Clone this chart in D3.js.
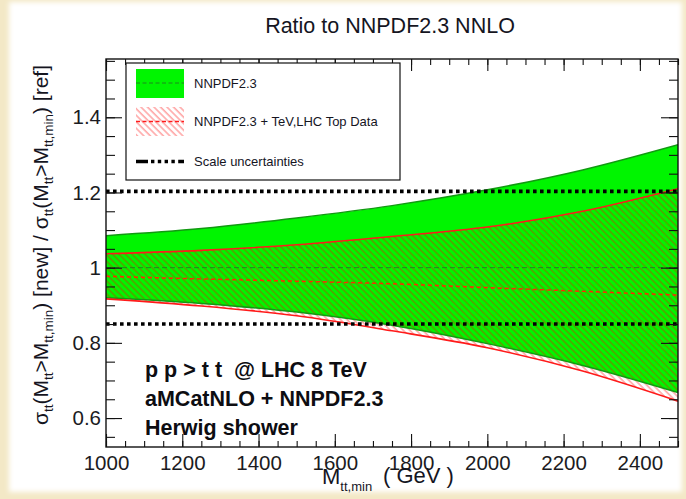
<!DOCTYPE html>
<html>
<head>
<meta charset="utf-8">
<script src="https://cdn.jsdelivr.net/npm/d3@7"></script>
<style>
body { margin: 0; background: #f3e8c6; }
svg { display: block; font-family: "Liberation Sans", Arial, Helvetica, sans-serif; }
</style>
</head>
<body>
<div id="chartContainer"></div>
<script>
const CHART_WIDTH = 686;
const CHART_HEIGHT = 499;
const PLOT_LEFT = 106, PLOT_RIGHT = 678, PLOT_TOP = 59, PLOT_BOTTOM = 447;

// Data
const massPoints = [1000, 1250, 1500, 1750, 2000, 2250, 2500];
const nnpdfUpper = [1.085, 1.104, 1.132, 1.165, 1.207, 1.260, 1.327];
const nnpdfLower = [0.920, 0.905, 0.882, 0.847, 0.798, 0.740, 0.668];
const nnpdfCentral = [1.0, 1.0, 1.0, 1.0, 1.0, 1.0, 1.0];
const topUpper = [1.037, 1.046, 1.061, 1.083, 1.108, 1.150, 1.210];
const topLower = [0.917, 0.898, 0.872, 0.832, 0.787, 0.725, 0.645];
const topCentral = [0.977, 0.970, 0.964, 0.957, 0.947, 0.937, 0.927];
const scaleUncertainties = [0.85, 1.203];

const xTickValues = [1000, 1200, 1400, 1600, 1800, 2000, 2200, 2400];
const yTickValues = [0.6, 0.8, 1, 1.2, 1.4];
const legendLabels = ["NNPDF2.3", "NNPDF2.3 + TeV,LHC Top Data", "Scale uncertainties"];
const infoLines = ["p p > t t  @ LHC 8 TeV", "aMCatNLO + NNPDF2.3", "Herwig shower"];
const chartTitle = "Ratio to NNPDF2.3 NNLO";

const xScale = d3.scaleLinear().domain([1000, 2500]).range([PLOT_LEFT, PLOT_RIGHT]);
const yScale = d3.scaleLinear().domain([0.523, 1.555]).range([PLOT_BOTTOM, PLOT_TOP]);

let svg = d3.select("#chartContainer").append("svg")
    .attr("width", CHART_WIDTH)
    .attr("height", CHART_HEIGHT);

let defs = svg.append("defs");

defs.append("filter").attr("id", "softEdge")
    .append("feGaussianBlur").attr("stdDeviation", 2.5);

defs.append("clipPath").attr("id", "plotClip")
    .append("rect")
    .attr("x", PLOT_LEFT).attr("y", PLOT_TOP)
    .attr("width", PLOT_RIGHT - PLOT_LEFT).attr("height", PLOT_BOTTOM - PLOT_TOP);

let hatch = defs.append("pattern")
    .attr("id", "redHatch")
    .attr("patternUnits", "userSpaceOnUse")
    .attr("width", 4.6).attr("height", 4.6)
    .attr("patternTransform", "rotate(-45)");
hatch.append("line")
    .attr("x1", 1).attr("y1", 0).attr("x2", 1).attr("y2", 4.6)
    .attr("stroke", "rgba(255,0,0,0.42)")
    .attr("stroke-width", 1.3);

// background: white sheet on parchment
svg.append("rect")
    .attr("x", 0).attr("y", 0).attr("width", CHART_WIDTH).attr("height", CHART_HEIGHT)
    .attr("fill", "#f3e8c6");
svg.append("rect")
    .attr("x", 9).attr("y", 2).attr("width", 673).attr("height", 490)
    .attr("fill", "#ffffff")
    .attr("filter", "url(#softEdge)");

// HELPER FUNCTIONS
const toPoints = (values) => massPoints.map((m, i) => [m, values[i]]);

const bandArea = d3.area()
    .x(d => xScale(d[0]))
    .y0(d => yScale(d[1]))
    .y1(d => yScale(d[2]))
    .curve(d3.curveMonotoneX);

const curveLine = d3.line()
    .x(d => xScale(d[0]))
    .y(d => yScale(d[1]))
    .curve(d3.curveMonotoneX);

const drawBand = (layer, lower, upper, fill) => {
    let rows = massPoints.map((m, i) => [m, lower[i], upper[i]]);
    layer.append("path")
        .datum(rows)
        .attr("d", bandArea)
        .attr("fill", fill);
}

const drawCurve = (layer, values, color, width, dash) => {
    layer.append("path")
        .datum(toPoints(values))
        .attr("d", curveLine)
        .attr("fill", "none")
        .attr("stroke", color)
        .attr("stroke-width", width)
        .attr("stroke-dasharray", dash);
}

let plotLayer = svg.append("g").attr("clip-path", "url(#plotClip)");

drawBand(plotLayer, nnpdfLower, nnpdfUpper, "#00f500");
drawBand(plotLayer, topLower, topUpper, "url(#redHatch)");
drawCurve(plotLayer, nnpdfUpper, "#119a11", 1.5, null);
drawCurve(plotLayer, nnpdfLower, "#119a11", 1.5, null);
drawCurve(plotLayer, topUpper, "#ff1a1a", 1.6, null);
drawCurve(plotLayer, topLower, "#ff1a1a", 1.6, null);
drawCurve(plotLayer, nnpdfCentral, "#1c8a1c", 1, "5,3");
drawCurve(plotLayer, topCentral, "#ff2a00", 1.5, "4,3");

scaleUncertainties.forEach((level) => {
    plotLayer.append("line")
        .attr("x1", xScale(1000)).attr("x2", xScale(2500))
        .attr("y1", yScale(level)).attr("y2", yScale(level))
        .attr("stroke", "#000")
        .attr("stroke-width", 3.6)
        .attr("stroke-dasharray", "3.6,3.4");
});

// AXES (ticks point inward, ROOT style)
const addAxis = (axis, tx, ty, showLabels) => {
    let g = svg.append("g").attr("transform", `translate(${tx},${ty})`).call(axis);
    g.select(".domain").remove();
    g.selectAll(".tick line").attr("stroke", "#111").attr("stroke-width", 1.1);
    if (showLabels) {
        g.selectAll(".tick text")
            .attr("fill", "#1b1b22")
            .attr("font-size", 20.5)
            .attr("font-family", "Liberation Sans, Arial, sans-serif");
    } else {
        g.selectAll(".tick text").remove();
    }
    return g;
}

const xMinor = d3.range(1000, 2501, 50);
const yMinor = d3.range(0.55, 1.56, 0.05);

addAxis(d3.axisBottom(xScale).tickValues(xMinor).tickSize(-6).tickSizeOuter(0), 0, PLOT_BOTTOM, false);
addAxis(d3.axisBottom(xScale).tickValues(xTickValues).tickSize(-13).tickSizeOuter(0).tickPadding(8)
    .tickFormat(d3.format("d")), 0, PLOT_BOTTOM, true);
addAxis(d3.axisTop(xScale).tickValues(xMinor).tickSize(-6).tickSizeOuter(0), 0, PLOT_TOP, false);
addAxis(d3.axisTop(xScale).tickValues(xTickValues).tickSize(-12).tickSizeOuter(0), 0, PLOT_TOP, false);

addAxis(d3.axisLeft(yScale).tickValues(yMinor).tickSize(-9).tickSizeOuter(0), PLOT_LEFT, 0, false);
addAxis(d3.axisLeft(yScale).tickValues(yTickValues).tickSize(-16).tickSizeOuter(0).tickPadding(5)
    .tickFormat(d => String(d)), PLOT_LEFT, 0, true);
addAxis(d3.axisRight(yScale).tickValues(yMinor).tickSize(-9).tickSizeOuter(0), PLOT_RIGHT, 0, false);
addAxis(d3.axisRight(yScale).tickValues(yTickValues).tickSize(-17).tickSizeOuter(0), PLOT_RIGHT, 0, false);

svg.append("rect")
    .attr("x", PLOT_LEFT).attr("y", PLOT_TOP)
    .attr("width", PLOT_RIGHT - PLOT_LEFT).attr("height", PLOT_BOTTOM - PLOT_TOP)
    .attr("fill", "none")
    .attr("stroke", "#111")
    .attr("stroke-width", 1.4);

// LEGEND
let legend = svg.append("g");
legend.append("rect")
    .attr("x", 126).attr("y", 63).attr("width", 274).attr("height", 117)
    .attr("fill", "#fff").attr("stroke", "#111").attr("stroke-width", 1.2);

const legendRows = [83, 121.5, 161.5];
legend.append("rect").attr("x", 136).attr("y", 69).attr("width", 48).attr("height", 29).attr("fill", "#00f500");
legend.append("line").attr("x1", 136).attr("x2", 184).attr("y1", legendRows[0]).attr("y2", legendRows[0])
    .attr("stroke", "#1c8a1c").attr("stroke-dasharray", "4,2.5");
legend.append("rect").attr("x", 136).attr("y", 107).attr("width", 48).attr("height", 29).attr("fill", "url(#redHatch)");
legend.append("line").attr("x1", 136).attr("x2", 184).attr("y1", legendRows[1]).attr("y2", legendRows[1])
    .attr("stroke", "#ff1a1a").attr("stroke-width", 1.3).attr("stroke-dasharray", "4,2.5");
legend.append("line").attr("x1", 136).attr("x2", 184).attr("y1", legendRows[2]).attr("y2", legendRows[2])
    .attr("stroke", "#000").attr("stroke-width", 3.4).attr("stroke-dasharray", "12,3,3.4,3.4,3.4,3.4,3.4,3.4,3.4,3.4");

legend.selectAll("text.legendLabel")
    .data(legendLabels)
    .join("text")
    .attr("class", "legendLabel")
    .attr("x", 194)
    .attr("y", (d, i) => legendRows[i])
    .attr("dy", "0.36em")
    .attr("font-size", 13)
    .attr("fill", "#15151f")
    .text(d => d);

// INFO TEXT
svg.selectAll("text.infoLine")
    .data(infoLines)
    .join("text")
    .attr("class", "infoLine")
    .attr("x", 145)
    .attr("y", (d, i) => 377 + i * 29)
    .attr("font-size", 21.5)
    .attr("font-weight", "bold")
    .attr("fill", "#0d0d12")
    .style("white-space", "pre")
    .text(d => d);

// TITLE
svg.append("text")
    .attr("x", 390).attr("y", 33)
    .attr("text-anchor", "middle")
    .attr("font-size", 21.5)
    .attr("fill", "#15151f")
    .text(chartTitle);

// X AXIS TITLE
let xTitle = svg.append("text").attr("x", 322).attr("y", 484).attr("font-size", 22).attr("fill", "#15151f");
xTitle.append("tspan").text("M");
xTitle.append("tspan").attr("font-size", 13).attr("dy", 7).text("tt,min");
svg.append("text").attr("x", 383).attr("y", 483).attr("font-size", 22).attr("fill", "#15151f")
    .style("white-space", "pre").text("( GeV )");

// Y AXIS TITLE
const yTitleParts = [
    ["σ", false], ["tt", true], ["(M", false], ["tt", true], [">M", false], ["tt,min", true],
    [") [new] / σ", false], ["tt", true], ["(M", false], ["tt", true], [">M", false], ["tt,min", true],
    [") [ref]", false]
];
let yTitle = svg.append("text")
    .attr("transform", "translate(48,245) rotate(-90)")
    .attr("text-anchor", "middle")
    .attr("font-size", 21)
    .attr("fill", "#15151f");
let shifted = false;
yTitleParts.forEach(([part, isSub]) => {
    let dy = 0;
    if (isSub && !shifted) dy = 5;
    if (!isSub && shifted) dy = -5;
    shifted = isSub;
    yTitle.append("tspan")
        .attr("dy", dy)
        .attr("font-size", isSub ? 13.5 : 21)
        .text(part);
});
</script>
</body>
</html>
